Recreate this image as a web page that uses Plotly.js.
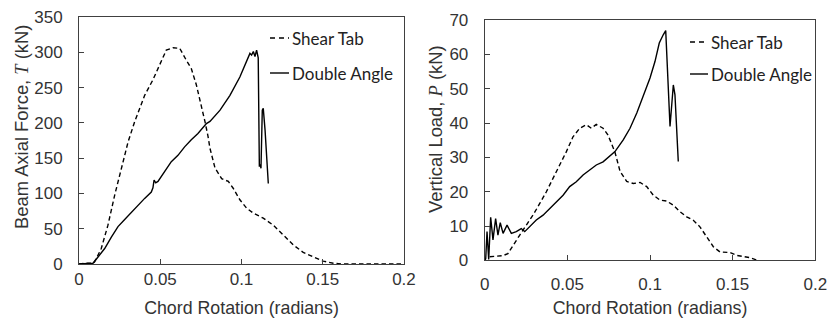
<!DOCTYPE html>
<html>
<head>
<meta charset="utf-8">
<script src="https://cdn.plot.ly/plotly-3.0.1.min.js"></script>
<style>html,body{margin:0;padding:0;background:#fff;}#chart{width:830px;height:322px;}</style>
</head>
<body>
<div id="chart"></div>
<script>
// ---- Left panel: Beam axial force T (kN) vs chord rotation (rad)
const stAxialRot = [0, 0.004, 0.0086, 0.0096, 0.0137, 0.0178, 0.022, 0.026, 0.0302, 0.0343, 0.0373, 0.0404, 0.0455, 0.0496, 0.0537, 0.0578, 0.062, 0.066, 0.0691, 0.0722, 0.0753, 0.0775, 0.0794, 0.0806, 0.0837, 0.0878, 0.0919, 0.095, 0.099, 0.1032, 0.1073, 0.1134, 0.1196, 0.1257, 0.1319, 0.138, 0.1442, 0.1503, 0.1565, 0.162, 0.2];
const stAxialT   = [0, 1, 1, 3, 22, 55, 98, 136, 173, 202, 221, 239, 261, 282, 303, 306.5, 305.6, 289, 277, 254, 225, 202, 181, 164, 136, 121, 117, 107, 91, 79, 72, 65, 55, 41, 27, 16.5, 10, 4, 1, 0, 0];
const daAxialRot = [0, 0.0086, 0.0117, 0.0158, 0.0199, 0.024, 0.0281, 0.0322, 0.0363, 0.0404, 0.0445, 0.0455, 0.0462, 0.0472, 0.0486, 0.0527, 0.0568, 0.0609, 0.065, 0.0691, 0.0732, 0.0784, 0.0806, 0.0868, 0.0929, 0.099, 0.1032, 0.1052, 0.1062, 0.1073, 0.1083, 0.1093, 0.1103, 0.1110, 0.1115, 0.1120, 0.1128, 0.1134, 0.1145, 0.1165];
const daAxialT   = [0, 1, 10, 22, 38, 53, 63, 73, 84, 93, 102, 108, 119, 115, 117, 131, 145, 154, 166, 176, 185, 199, 202, 218, 239, 265, 287, 298.5, 296, 301, 294, 303, 292, 138, 141, 135.6, 218, 220.6, 190, 114];

// ---- Right panel: Vertical load P (kN) vs chord rotation (rad)
const stVertRot = [0.003, 0.011, 0.014, 0.0171, 0.0212, 0.0252, 0.0292, 0.0333, 0.0373, 0.0413, 0.0454, 0.0494, 0.0534, 0.0575, 0.0615, 0.0645, 0.0675, 0.0716, 0.0746, 0.0772, 0.0788, 0.0819, 0.0859, 0.0899, 0.094, 0.098, 0.102, 0.106, 0.1101, 0.1141, 0.1181, 0.1222, 0.1262, 0.1302, 0.1343, 0.1383, 0.1423, 0.1484, 0.1524, 0.1606, 0.1655];
const stVertP   = [1.1, 1.4, 2, 4.5, 7.4, 10.3, 13.2, 16.6, 20, 23.9, 27.8, 31.7, 36, 38.5, 39.5, 38.5, 39.6, 38.5, 36.5, 33.6, 31.5, 25.9, 23, 22.4, 22.7, 21.5, 19, 17.6, 17.3, 16.1, 14.2, 12.7, 11.7, 9.8, 6.9, 4, 2.5, 2.3, 1.5, 0.8, 0];
const daVertRot = [0, 0.0006, 0.0014, 0.0024, 0.0036, 0.005, 0.0066, 0.008, 0.0094, 0.0111, 0.0135, 0.0161, 0.0191, 0.0221, 0.0242, 0.0272, 0.0312, 0.0353, 0.0393, 0.0433, 0.0474, 0.0514, 0.0554, 0.0595, 0.0635, 0.0675, 0.0716, 0.0766, 0.0788, 0.0838, 0.0879, 0.092, 0.0959, 0.1, 0.103, 0.1056, 0.108, 0.1095, 0.1121, 0.1131, 0.1141, 0.1151, 0.1171];
const daVertP   = [0, 0.5, 8.4, 0.3, 12.6, 6, 12.2, 7.4, 11, 7.9, 10.3, 7.9, 8.4, 9.3, 8.4, 9.8, 11.8, 13.2, 15.2, 17.1, 19, 21.5, 22.9, 24.9, 26.3, 27.8, 28.7, 30.8, 31.7, 35.1, 38.5, 42.9, 47.7, 53.1, 57.9, 63.3, 65.7, 66.9, 39, 46.3, 51.1, 48.2, 28.8];

const xTicks = [0, 0.05, 0.1, 0.15, 0.2];
const seriesNames = ['Shear Tab', 'Double Angle'];

const W = 830, H = 322;
const tickFont = {family: 'Liberation Sans, Arial, sans-serif', size: 17, color: '#333'};
const xTitleFont = {family: 'Liberation Sans, Arial, sans-serif', size: 17.8, color: '#333'};
const yTitleFont = {family: 'Liberation Sans, Arial, sans-serif', size: 18.4, color: '#333'};
const legFont = {family: 'Lato, Open Sans, sans-serif', size: 17, color: '#222'};
const dashStyle = '4.5px,3px';

const traces = [
  {x: stAxialRot, y: stAxialT, name: seriesNames[0], mode: 'lines', line: {color: '#000', width: 1.4, dash: dashStyle}, xaxis: 'x', yaxis: 'y'},
  {x: daAxialRot, y: daAxialT, name: seriesNames[1], mode: 'lines', line: {color: '#000', width: 1.4}, xaxis: 'x', yaxis: 'y'},
  {x: stVertRot, y: stVertP, name: seriesNames[0], mode: 'lines', line: {color: '#000', width: 1.4, dash: dashStyle}, xaxis: 'x2', yaxis: 'y2'},
  {x: daVertRot, y: daVertP, name: seriesNames[1], mode: 'lines', line: {color: '#000', width: 1.4}, xaxis: 'x2', yaxis: 'y2'}
];

function xAxis(domain, anchor, lblStandoff, titleStandoff) {
  return {
    domain: domain, anchor: anchor, range: [0, 0.2], tickvals: xTicks,
    ticks: 'inside', ticklen: 5, tickcolor: '#404040',
    showline: true, mirror: true, linecolor: '#404040', linewidth: 1,
    showgrid: false, zeroline: false, tickfont: tickFont, ticklabelstandoff: lblStandoff,
    title: {text: 'Chord Rotation (radians)', font: xTitleFont, standoff: titleStandoff}
  };
}
function yAxis(domain, anchor, max, step) {
  return {
    domain: domain, anchor: anchor, range: [0, max], dtick: step, tick0: 0,
    ticks: 'inside', ticklen: 5, tickcolor: '#404040',
    showline: true, mirror: true, linecolor: '#404040', linewidth: 1,
    showgrid: false, zeroline: false, tickfont: tickFont, ticklabelstandoff: 12
  };
}

// Legend keys (short line samples + labels), placed in pixel terms like the source figure
const legendRows = [
  {x0: 270, x1: 289, y: 38, dash: '5px,4px', name: seriesNames[0]},
  {x0: 270, x1: 289, y: 73, dash: 'solid', name: seriesNames[1]},
  {x0: 690, x1: 708, y: 42, dash: '5px,4px', name: seriesNames[0]},
  {x0: 690, x1: 708, y: 74, dash: 'solid', name: seriesNames[1]}
];
const legendShapes = legendRows.map(r => ({
  type: 'line', xref: 'paper', yref: 'paper',
  x0: r.x0 / W, x1: r.x1 / W, y0: (H - r.y) / H, y1: (H - r.y) / H,
  line: {color: '#000', width: 1.4, dash: r.dash}
}));
const legendLabels = legendRows.map(r => ({
  text: r.name, xref: 'paper', yref: 'paper', x: (r.x1 + 1) / W, y: (H - r.y) / H,
  xanchor: 'left', yanchor: 'middle', showarrow: false, font: legFont
}));

const layout = {
  width: W, height: H,
  margin: {l: 0, r: 0, t: 0, b: 0},
  paper_bgcolor: '#fff', plot_bgcolor: '#fff',
  showlegend: false,
  xaxis: xAxis([0.0952, 0.4867], 'y', 0, 13),
  yaxis: yAxis([0.1801, 0.9472], 'x', 350, 50),
  xaxis2: xAxis([0.584, 0.9823], 'y2', 8, 8),
  yaxis2: yAxis([0.191, 0.9379], 'x2', 70, 10),
  shapes: legendShapes,
  annotations: [
    {text: 'Beam Axial Force, <span style="font-family:Liberation Serif;font-style:italic">T</span> (kN)', xref: 'paper', yref: 'paper', x: 21 / W, y: (H - 127) / H, textangle: -90, showarrow: false, font: yTitleFont, xanchor: 'center', yanchor: 'middle'},
    {text: 'Vertical Load, <span style="font-family:Liberation Serif;font-style:italic">P</span> (kN)', xref: 'paper', yref: 'paper', x: 435 / W, y: (H - 129) / H, textangle: -90, showarrow: false, font: yTitleFont, xanchor: 'center', yanchor: 'middle'}
  ].concat(legendLabels)
};

Plotly.newPlot('chart', traces, layout, {displayModeBar: false, staticPlot: true});
</script>
</body>
</html>
